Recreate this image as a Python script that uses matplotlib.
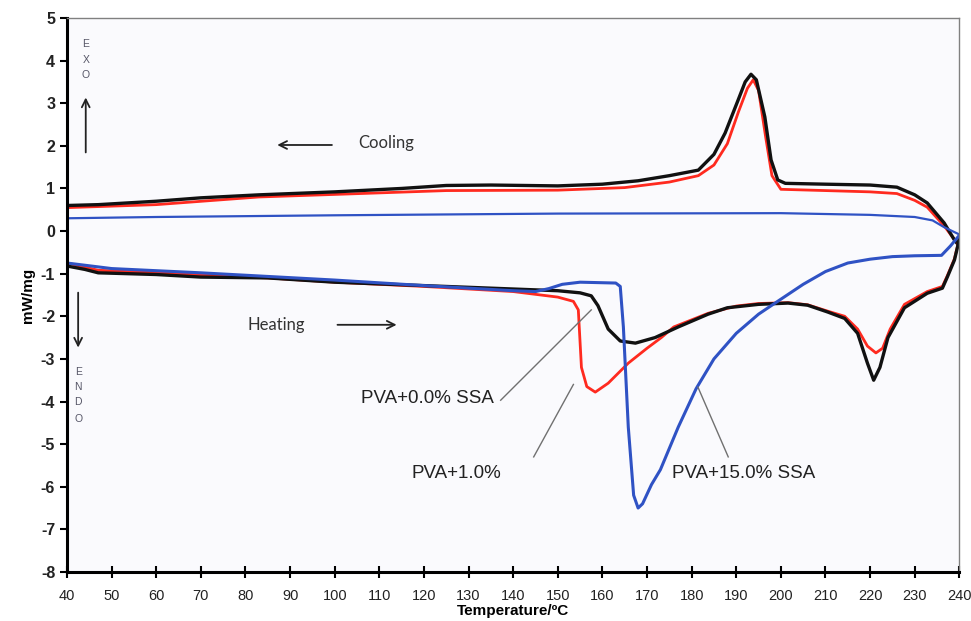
import matplotlib
matplotlib.use("Agg")
import matplotlib.pyplot as plt

plt.rcParams["axes.unicode_minus"] = False

# DSC curves (temperature in C, heat flow in mW/mg)

# cooling runs (upper curves)
cool_black_t = [40, 47, 60, 70, 83, 100, 115, 125, 135, 150, 160, 168, 175, 181.5, 185, 187.5, 190.4, 192, 193.3,
                194.5, 196.4, 197.8, 199.3, 201, 210, 220, 226, 230, 232.8, 236.6, 238.9, 239.6]
cool_black_y = [0.6, 0.62, 0.7, 0.78, 0.85, 0.92, 1.0, 1.07, 1.08, 1.06, 1.1, 1.18, 1.3, 1.43, 1.8, 2.3, 3.07, 3.5, 3.68,
                3.55, 2.68, 1.67, 1.2, 1.12, 1.1, 1.08, 1.03, 0.85, 0.66, 0.19, -0.21, -0.3]

cool_red_t = [40, 60, 83, 100, 125, 150, 165, 175, 181.5, 185, 188, 190.5, 192.5, 193.8, 195, 196.6, 198, 200,
              210, 220, 226, 230, 232.8, 236.6, 238.9, 239.6]
cool_red_y = [0.55, 0.62, 0.8, 0.86, 0.95, 0.96, 1.02, 1.15, 1.3, 1.55, 2.05, 2.8, 3.35, 3.55, 3.3, 2.2, 1.3, 0.98,
              0.95, 0.92, 0.88, 0.72, 0.56, 0.12, -0.2, -0.3]

cool_blue_t = [40, 60, 100, 150, 200, 220, 230, 234, 236.6, 240.2]
cool_blue_y = [0.3, 0.33, 0.37, 0.41, 0.42, 0.38, 0.33, 0.25, 0.09, -0.09]

# heating runs (lower curves)
heat_black_t = [40, 44, 47, 60, 70, 85, 100, 120, 140, 150, 155, 157.5, 159, 161.3, 164, 167.4, 171.8, 177, 183.7,
                188, 195, 201.6, 206, 210.5, 214.3, 217.2, 219.4, 220.8, 222.2, 224, 227.7, 232.8, 236.2, 237.3,
                238.9, 239.6, 240]
heat_black_y = [-0.82, -0.9, -0.98, -1.02, -1.08, -1.1, -1.2, -1.28, -1.36, -1.4, -1.45, -1.52, -1.75, -2.3, -2.58,
                -2.63, -2.5, -2.25, -1.95, -1.8, -1.72, -1.69, -1.74, -1.9, -2.05, -2.4, -3.1, -3.5, -3.2, -2.5,
                -1.8, -1.46, -1.34, -1.08, -0.68, -0.37, -0.15]

heat_red_t = [40, 47, 60, 85, 100, 120, 140, 150, 153.5, 154.6, 155.3, 156.5, 158.4, 161.3, 165.8, 170, 173.2,
              176, 183.7, 190, 195, 201.6, 206, 210.5, 214.3, 217.2, 219.4, 221.3, 222.8, 224.5, 227.7, 232.8,
              236.2, 237.3, 238.9, 239.6, 240]
heat_red_y = [-0.75, -0.92, -0.98, -1.1, -1.2, -1.3, -1.42, -1.55, -1.65, -1.85, -3.2, -3.65, -3.78, -3.57, -3.1,
              -2.75, -2.5, -2.25, -1.93, -1.76, -1.7, -1.68, -1.73, -1.88, -2.0, -2.3, -2.7, -2.86, -2.75, -2.3,
              -1.72, -1.42, -1.3, -1.05, -0.65, -0.35, -0.15]

heat_blue_t = [40, 50, 70, 100, 120, 140, 145, 148, 151, 155, 163, 164, 164.7, 165.8, 167, 168, 169, 171, 173,
               177, 181, 185, 190, 195, 198.7, 205, 210, 215, 220, 225, 230, 236, 238, 240]
heat_blue_y = [-0.75, -0.88, -0.98, -1.15, -1.28, -1.4, -1.42, -1.35, -1.25, -1.2, -1.22, -1.3, -2.25, -4.6, -6.2,
               -6.5, -6.4, -5.95, -5.6, -4.6, -3.7, -3.0, -2.4, -1.95, -1.69, -1.25, -0.95, -0.75, -0.66, -0.6,
               -0.58, -0.57, -0.35, -0.1]

x_ticks = list(range(40, 241, 10))
y_ticks = list(range(-8, 6))

fig = plt.figure(figsize=(9.71, 6.21), dpi=100)
ax = fig.add_axes([0.069, 0.079, 0.919, 0.892])
ax.set_facecolor("#fafafd")

black, red, blue = "#111111", "#ff2a1f", "#2f52c4"
line_kw = dict(solid_joinstyle="round", solid_capstyle="round")
ax.plot(cool_red_t, cool_red_y, color=red, lw=2.0, **line_kw)
ax.plot(cool_black_t, cool_black_y, color=black, lw=2.4, **line_kw)
ax.plot(cool_blue_t, cool_blue_y, color=blue, lw=1.6, **line_kw)
ax.plot(heat_red_t, heat_red_y, color=red, lw=2.0, **line_kw)
ax.plot(heat_black_t, heat_black_y, color=black, lw=2.4, **line_kw)
ax.plot(heat_blue_t, heat_blue_y, color=blue, lw=2.2, **line_kw)

ax.set_xlim(40, 240)
ax.set_ylim(-8, 5)
ax.set_xticks(x_ticks)
ax.set_yticks(y_ticks)
ax.tick_params(axis="x", direction="inout", length=8, width=1.5, labelsize=10.5, pad=8)
ax.tick_params(axis="y", direction="out", length=5, width=1.5, labelsize=11.5)
for lab in ax.get_yticklabels():
    lab.set_fontweight("bold")
for lab in ax.get_xticklabels() + ax.get_yticklabels():
    lab.set_family("Liberation Sans")
    lab.set_color("#222222")

for s in ["left", "bottom"]:
    ax.spines[s].set_linewidth(2.2)
    ax.spines[s].set_color("black")
for s in ["top", "right"]:
    ax.spines[s].set_linewidth(1.0)
    ax.spines[s].set_color("#808080")

ax.set_xlabel("Temperature/ºC", fontsize=11, fontweight="bold", family="Liberation Sans", labelpad=1)
ax.set_ylabel("mW/mg", fontsize=11, fontweight="bold", family="Liberation Sans", labelpad=4)

# direction hints
txt_kw = dict(family="Lato", fontsize=12, color="#333333", va="center")
ax.text(111.5, 2.07, "Cooling", ha="center", **txt_kw)
ax.annotate("", xy=(86.5, 2.02), xytext=(100, 2.02),
            arrowprops=dict(arrowstyle="->", color="#222222", lw=1.3, mutation_scale=14))
ax.text(87, -2.2, "Heating", ha="center", **txt_kw)
ax.annotate("", xy=(114.5, -2.2), xytext=(100, -2.2),
            arrowprops=dict(arrowstyle="->", color="#222222", lw=1.3, mutation_scale=14))

for ch, yy in zip("EXO", [4.39, 4.02, 3.66]):
    ax.text(44.2, yy, ch, ha="center", va="center", fontsize=7.5, color="#555566", family="Liberation Sans")
ax.annotate("", xy=(44.2, 3.2), xytext=(44.2, 1.78),
            arrowprops=dict(arrowstyle="->", color="#222222", lw=1.3, mutation_scale=14))
for ch, yy in zip("ENDO", [-3.3, -3.66, -4.02, -4.42]):
    ax.text(42.5, yy, ch, ha="center", va="center", fontsize=7.5, color="#555566", family="Liberation Sans")
ax.annotate("", xy=(42.5, -2.8), xytext=(42.5, -1.38),
            arrowprops=dict(arrowstyle="->", color="#222222", lw=1.3, mutation_scale=14))

# sample labels with pointer lines
lab_kw = dict(fontsize=13.5, family="Liberation Sans", color="#222222", ha="center", va="center")
ax.text(120.7, -3.94, "PVA+0.0% SSA", **lab_kw)
ax.plot([137.2, 157.5], [-3.97, -1.85], color="#707070", lw=1.0)
ax.text(127.2, -5.68, "PVA+1.0%", **lab_kw)
ax.plot([144.6, 153.5], [-5.3, -3.6], color="#707070", lw=1.0)
ax.text(191.7, -5.68, "PVA+15.0% SSA", **lab_kw)
ax.plot([188.2, 181.4], [-5.3, -3.66], color="#707070", lw=1.0)

fig.savefig("out.png", dpi=100)
